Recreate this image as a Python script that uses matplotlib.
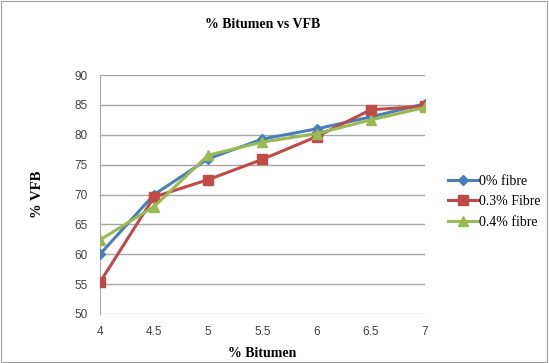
import matplotlib
matplotlib.use("Agg")
import matplotlib.pyplot as plt
from matplotlib.patches import Rectangle

bitumen = [4, 4.5, 5, 5.5, 6, 6.5, 7]
vfb_0 = [60.0, 70.0, 76.0, 79.3, 81.0, 83.0, 85.2]
vfb_03 = [55.3, 69.6, 72.5, 75.9, 79.7, 84.2, 84.8]
vfb_04 = [62.4, 68.0, 76.6, 78.8, 80.2, 82.5, 84.6]
series_labels = ["0% fibre", "0.3% Fibre", "0.4% fibre"]
x_ticks = [4, 4.5, 5, 5.5, 6, 6.5, 7]
y_ticks = [50, 55, 60, 65, 70, 75, 80, 85, 90]

SERIF = "Liberation Serif"
SANS = "Liberation Sans"

fig = plt.figure(figsize=(5.49, 3.63), dpi=100)
fig.patches.append(Rectangle((0.002, 0.003), 0.995, 0.994, transform=fig.transFigure,
                             fill=False, edgecolor="#a0a0a0", linewidth=0.8))
ax = fig.add_axes([0.182, 0.135, 0.592, 0.658])

styles = [
    (vfb_0, "#4a7ebb", "D", 5),
    (vfb_03, "#be4b48", "s", 6.5),
    (vfb_04, "#98b954", "^", 6.5),
]
for (vals, color, marker, ms), label in zip(styles, series_labels):
    ax.plot(bitumen, vals, color=color, marker=marker, markersize=ms,
            linewidth=2.2, label=label, zorder=3)

ax.set_xlim(4, 7)
ax.set_ylim(50, 90)
ax.set_xticks(x_ticks)
ax.set_xticklabels([f"{t:g}" for t in x_ticks])
ax.set_yticks(y_ticks)
ax.grid(axis="y", color="#a6a6a6", linewidth=1.0)
ax.set_axisbelow(True)
for side in ["top", "right", "bottom"]:
    ax.spines[side].set_visible(False)
ax.spines["left"].set_color("#a6a6a6")
ax.tick_params(axis="both", length=0, labelsize=8.5, colors="#404040", pad=9)
for lab in ax.get_xticklabels() + ax.get_yticklabels():
    lab.set_family(SANS)

ax.set_title("% Bitumen vs VFB", family=SERIF, fontweight="bold", fontsize=10, pad=34)
ax.set_xlabel("% Bitumen", family=SERIF, fontweight="bold", fontsize=10, labelpad=6)
ax.set_ylabel("% VFB", family=SERIF, fontweight="bold", fontsize=10.5, labelpad=22)

ax.legend(loc="center left", bbox_to_anchor=(1.055, 0.47), frameon=False,
          prop={"family": SERIF, "size": 10}, handlelength=2.1,
          handletextpad=0.1, labelspacing=0.55, borderaxespad=0)

fig.savefig("out.png", dpi=100)
